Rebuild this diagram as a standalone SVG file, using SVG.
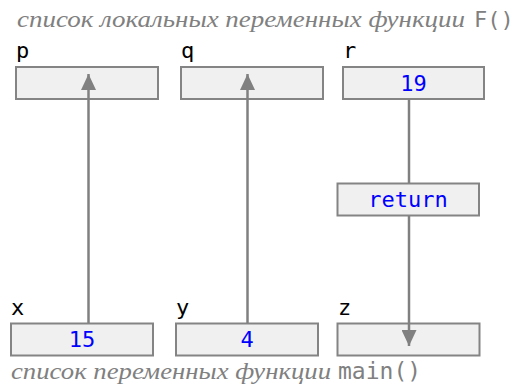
<svg xmlns="http://www.w3.org/2000/svg" width="513" height="387" viewBox="0 0 513 387">
<defs>
<style>
.box{fill:#f0f0f0;stroke:#848484;stroke-width:2}
.lbl{font-family:"DejaVu Sans Mono","Liberation Mono",monospace;font-size:22px;fill:#000}
.val{font-family:"DejaVu Sans Mono","Liberation Mono",monospace;font-size:22px;fill:#0000ff;text-anchor:middle}
.cap{font-family:"Liberation Serif","DejaVu Serif",serif;font-style:italic;font-size:24px;fill:#808080}
.capm{font-family:"DejaVu Sans Mono","Liberation Mono",monospace;fill:#808080}
.con{stroke:#808080;stroke-width:2.5;fill:none}
</style>
<marker id="ah" viewBox="0 0 16 15" refX="16" refY="7.5" markerWidth="16" markerHeight="15" markerUnits="userSpaceOnUse" orient="auto">
<path d="M0,0 L16,7.5 L0,15 Z" fill="#808080"/>
</marker>
</defs>
<rect width="513" height="387" fill="#ffffff"/>
<text class="cap" x="17" y="27" textLength="448" lengthAdjust="spacingAndGlyphs">список локальных переменных функции</text>
<text class="capm" x="474" y="27" font-size="22">F()</text>
<text class="cap" x="11" y="379" textLength="320" lengthAdjust="spacingAndGlyphs">список переменных функции</text>
<text class="capm" x="338" y="379" font-size="23">main()</text>
<g id="p"><text class="lbl" x="16" y="58">p</text><rect class="box" x="16" y="67" width="142" height="32"/></g>
<g id="q"><text class="lbl" x="181" y="58">q</text><rect class="box" x="181" y="67" width="142" height="32"/></g>
<g id="r"><text class="lbl" x="343" y="58">r</text><rect class="box" x="343" y="67" width="141" height="32"/><text class="val" x="413.5" y="91">19</text></g>
<g id="x"><text class="lbl" x="11" y="315">x</text><rect class="box" x="11" y="323.5" width="142" height="32"/><text class="val" x="82" y="347">15</text></g>
<g id="y"><text class="lbl" x="176" y="315">y</text><rect class="box" x="176" y="323.5" width="142" height="32"/><text class="val" x="247" y="347">4</text></g>
<g id="z"><text class="lbl" x="338" y="315">z</text><rect class="box" x="337.5" y="323.5" width="142" height="32"/></g>
<g id="ret"><rect class="box" x="337.5" y="183.5" width="141.5" height="32"/><text class="val" x="408" y="207">return</text></g>
<g id="connectors">
<line class="con" x1="88.5" y1="323" x2="88.5" y2="74" marker-end="url(#ah)"/>
<line class="con" x1="247.5" y1="323" x2="247.5" y2="74" marker-end="url(#ah)"/>
<line class="con" x1="409" y1="99" x2="409" y2="183"/>
<line class="con" x1="409" y1="216" x2="409" y2="346" marker-end="url(#ah)"/>
</g>
</svg>
